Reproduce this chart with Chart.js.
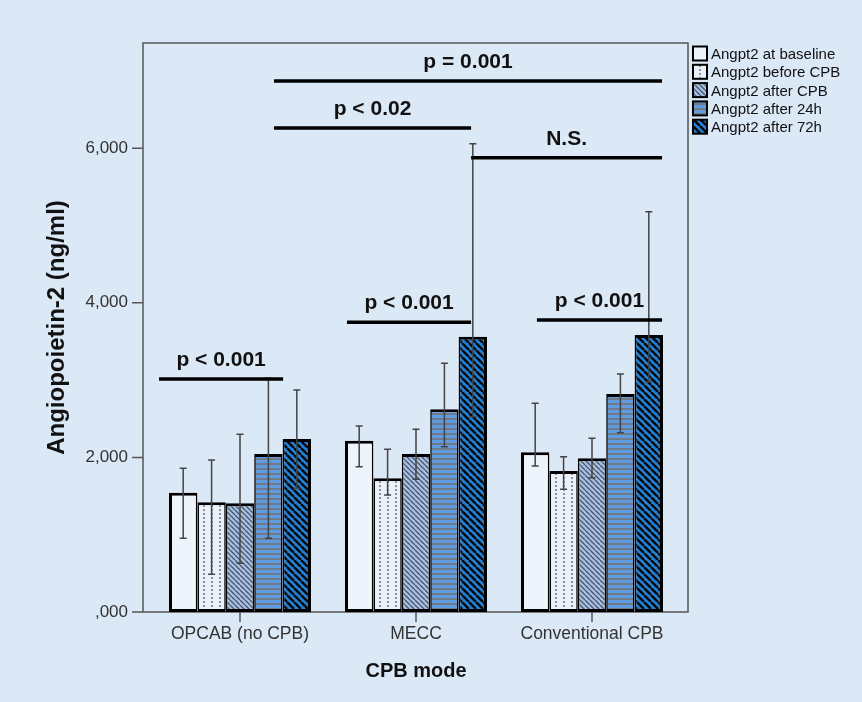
<!DOCTYPE html>
<html><head><meta charset="utf-8">
<script src="https://cdn.jsdelivr.net/npm/chart.js@4.4.1/dist/chart.umd.min.js"></script>
<style>html,body{margin:0;padding:0;background:#dbe8f6;}canvas{display:block;}</style>
</head><body>
<canvas id="c" width="862" height="702"></canvas>
<script>
// ---- data ----
const categories = ['OPCAB (no CPB)', 'MECC', 'Conventional CPB'];
const seriesNames = ['Angpt2 at baseline', 'Angpt2 before CPB', 'Angpt2 after CPB', 'Angpt2 after 24h', 'Angpt2 after 72h'];
const atBaseline = [1543, 2216, 2066];
const beforeCPB  = [1419, 1729, 1824];
const afterCPB   = [1406, 2044, 1988];
const after24h   = [2044, 2622, 2820];
const after72h   = [2238, 3561, 3583];
const errHighBaseline = [1858, 2406, 2700];
const errLowBaseline  = [953, 1880, 1889];
const errHighBefore   = [1966, 2104, 2009];
const errLowBefore    = [487, 1513, 1587];
const errHighAfter    = [2298, 2363, 2247];
const errLowAfter     = [630, 1716, 1737];
const errHigh24h      = [3023, 3217, 3079];
const errLow24h       = [953, 2138, 2320];
const errHigh72h      = [2872, 6056, 5178];
const errLow72h       = [1600, 2527, 2979];
const yTickValues = [0, 2000, 4000, 6000];
const yTickLabels = [',000', '2,000', '4,000', '6,000'];
const yMax = 7360;
// significance brackets: category positions (fractional index) and y value
const bracketLabels = ['p = 0.001', 'p < 0.02', 'N.S.', 'p < 0.001', 'p < 0.001', 'p < 0.001'];
const bracketFrom   = [0.193, 0.193, 1.313, -0.46, 0.608, 1.687];
const bracketTo     = [2.398, 1.313, 2.398, 0.245, 1.313, 2.398];
const bracketY      = [6868, 6261, 5876, 3014, 3747, 3777];

const seriesValues = [atBaseline, beforeCPB, afterCPB, after24h, after72h];
const seriesHigh = [errHighBaseline, errHighBefore, errHighAfter, errHigh24h, errHigh72h];
const seriesLow  = [errLowBaseline, errLowBefore, errLowAfter, errLow24h, errLow72h];

const FONT = '"Liberation Sans", Arial, Helvetica, sans-serif';
const BG = '#dbe8f6';

function makePattern(kind) {
  const c = document.createElement('canvas');
  const g = c.getContext('2d');
  function diag(s, bg, fg, w) {
    c.width = s; c.height = s;
    g.fillStyle = bg; g.fillRect(0, 0, s, s);
    g.strokeStyle = fg; g.lineWidth = w;
    g.beginPath();
    for (let k = -1; k <= 1; k++) { g.moveTo(k * s, 0); g.lineTo(k * s + s, s); }
    g.stroke();
  }
  if (kind === 0) { c.width = 4; c.height = 4; g.fillStyle = '#eef4fb'; g.fillRect(0, 0, 4, 4); }
  else if (kind === 1) {
    c.width = 8; c.height = 4; g.fillStyle = '#eaf1fa'; g.fillRect(0, 0, 8, 4);
    g.fillStyle = '#8d939c'; g.fillRect(3, 1, 2, 2);
  }
  else if (kind === 2) diag(5, '#a7c1e8', '#4b5465', 1.3);
  else if (kind === 3) {
    c.width = 4; c.height = 5; g.fillStyle = '#5f9bdf'; g.fillRect(0, 0, 4, 5);
    g.fillStyle = '#707a88'; g.fillRect(0, 3, 4, 2);
  }
  else diag(7, '#2281d6', '#080808', 2.4);
  return g.createPattern(c, 'repeat');
}

const ctx0 = document.getElementById('c').getContext('2d');

const datasets = seriesNames.map((name, i) => ({
  label: name,
  data: seriesValues[i],
  backgroundColor: makePattern(i),
  borderColor: '#000',
  borderWidth: { top: 3, bottom: 3, left: i === 0 ? 3 : 1.6, right: i === 4 ? 3 : 1.6 },
  borderSkipped: false,
  categoryPercentage: 0.807,
  barPercentage: 1.0
}));

const bgPlugin = {
  id: 'bg',
  beforeDraw(chart) {
    const c = chart.ctx;
    c.save(); c.fillStyle = BG; c.fillRect(0, 0, chart.width, chart.height); c.restore();
  }
};

const framePlugin = {
  id: 'frame',
  beforeDatasetsDraw(chart) {
    const { ctx, chartArea: a, scales: { x, y } } = chart;
    const L = a.left - 9, R = a.right + 8, T = a.top, B = a.bottom;
    ctx.save();
    ctx.strokeStyle = '#555'; ctx.lineWidth = 1.5;
    ctx.strokeRect(L, T, R - L, B - T);
    ctx.beginPath();
    yTickValues.forEach(v => { const py = y.getPixelForValue(v); ctx.moveTo(L - 11, py); ctx.lineTo(L, py); });
    categories.forEach((c, i) => { const px = x.getPixelForValue(i); ctx.moveTo(px, B); ctx.lineTo(px, B + 10); });
    ctx.stroke();
    ctx.restore();
  }
};

const errorPlugin = {
  id: 'errbars',
  afterDatasetsDraw(chart) {
    const { ctx, scales: { x, y } } = chart;
    ctx.save();
    ctx.strokeStyle = '#444'; ctx.lineWidth = 1.5;
    chart.data.datasets.forEach((ds, i) => {
      const meta = chart.getDatasetMeta(i);
      meta.data.forEach((el, j) => {
        const yh = y.getPixelForValue(seriesHigh[i][j]);
        const yl = y.getPixelForValue(seriesLow[i][j]);
        ctx.beginPath();
        ctx.moveTo(el.x, yh); ctx.lineTo(el.x, yl);
        ctx.moveTo(el.x - 3.5, yh); ctx.lineTo(el.x + 3.5, yh);
        ctx.moveTo(el.x - 3.5, yl); ctx.lineTo(el.x + 3.5, yl);
        ctx.stroke();
      });
    });
    // significance brackets
    const x0 = x.getPixelForValue(0), step = x.getPixelForValue(1) - x0;
    ctx.strokeStyle = '#000'; ctx.lineWidth = 3.5;
    ctx.fillStyle = '#111';
    ctx.font = 'bold 21px ' + FONT;
    ctx.textAlign = 'center'; ctx.textBaseline = 'middle';
    bracketLabels.forEach((lab, k) => {
      const x1 = x0 + bracketFrom[k] * step, x2 = x0 + bracketTo[k] * step;
      const py = y.getPixelForValue(bracketY[k]);
      ctx.beginPath(); ctx.moveTo(x1, py); ctx.lineTo(x2, py); ctx.stroke();
      ctx.fillText(lab, (x1 + x2) / 2, py - 19);
    });
    ctx.restore();
  }
};

const legendPlugin = {
  id: 'customLegend',
  afterDraw(chart) {
    const { ctx, chartArea: a } = chart;
    const left = a.right + 12, top = 45.5;
    ctx.save();
    ctx.font = '15px ' + FONT;
    ctx.textAlign = 'left'; ctx.textBaseline = 'middle';
    chart.data.datasets.forEach((ds, i) => {
      const by = top + i * 18.3;
      ctx.fillStyle = '#000';
      ctx.fillRect(left, by, 16, 16);
      ctx.fillStyle = ds.backgroundColor;
      ctx.fillRect(left + 2, by + 2, 12, 12);
      ctx.fillStyle = '#111';
      ctx.fillText(ds.label, left + 19, by + 9.5);
    });
    ctx.restore();
  }
};

new Chart(ctx0, {
  type: 'bar',
  data: { labels: categories, datasets },
  plugins: [bgPlugin, framePlugin, errorPlugin, legendPlugin],
  options: {
    responsive: false,
    animation: false,
    devicePixelRatio: 1,
    layout: { padding: { top: 43, right: 182, bottom: 0, left: 0 } },
    plugins: { legend: { display: false }, tooltip: { enabled: false } },
    scales: {
      x: {
        offset: true,
        grid: { display: false, drawTicks: false },
        border: { display: false },
        ticks: { color: '#333', font: { family: FONT, size: 17.5 }, padding: 11.5, maxRotation: 0, autoSkip: false },
        title: { display: true, text: 'CPB mode', color: '#111', font: { family: FONT, size: 20, weight: 'bold' }, padding: { top: 0, bottom: 19 } },
        afterFit(s) { s.height = 90; }
      },
      y: {
        min: 0, max: yMax,
        grid: { display: false, drawTicks: false },
        border: { display: false },
        afterBuildTicks(s) { s.ticks = yTickValues.map(v => ({ value: v })); },
        ticks: { color: '#333', font: { family: FONT, size: 17 }, padding: 24,
          callback: (v) => yTickLabels[yTickValues.indexOf(v)] },
        title: { display: true, text: 'Angiopoietin-2 (ng/ml)', color: '#111', font: { family: FONT, size: 24, weight: 'bold' }, padding: { top: 43, bottom: 0 } },
        afterFit(s) { s.width = 152; }
      }
    }
  }
});
</script>
</body></html>
